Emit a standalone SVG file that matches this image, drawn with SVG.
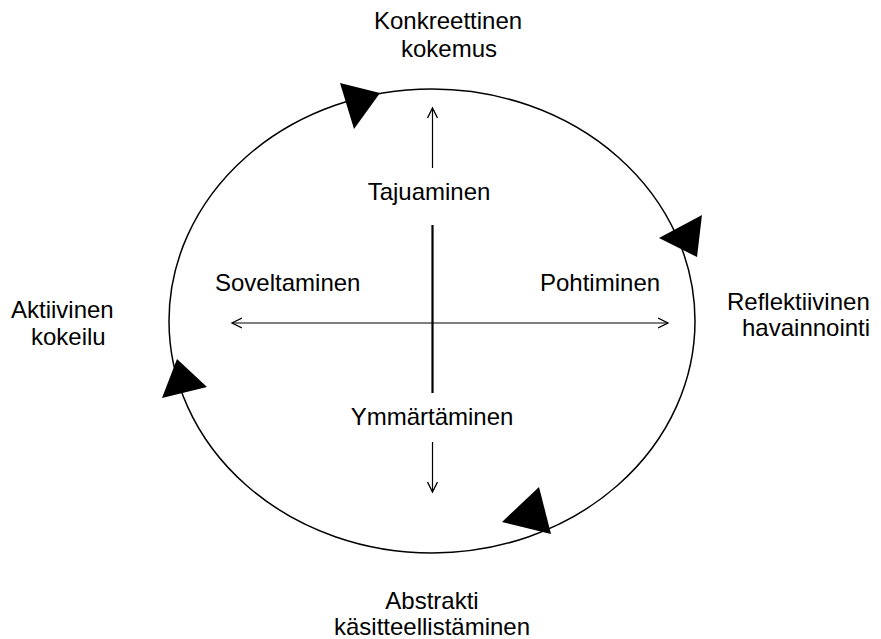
<svg xmlns="http://www.w3.org/2000/svg" width="881" height="639" viewBox="0 0 881 639">
<style>
text { font-family: "Liberation Sans", Arial, sans-serif; font-size: 24px; fill: #000; }
.c { text-anchor: middle; }
.ln { stroke: #000; fill: none; }
.head { fill: #000; stroke: none; }
</style>
<defs>
<marker id="open" markerWidth="12" markerHeight="12" refX="10" refY="6" orient="auto" markerUnits="userSpaceOnUse">
<path d="M0,1 L10,6 L0,11" fill="none" stroke="#000" stroke-width="1.3"/>
</marker>
</defs>
<rect width="881" height="639" fill="#fff"/>
<g id="connectors">
<ellipse class="ln" cx="432" cy="321" rx="263" ry="232" stroke-width="1.5"/>
<line class="ln" x1="432.5" y1="225" x2="432.5" y2="393" stroke-width="2.2"/>
<line class="ln" x1="432" y1="323" x2="232" y2="323" stroke-width="1.2" marker-end="url(#open)"/>
<line class="ln" x1="432" y1="323" x2="668" y2="323" stroke-width="1.2" marker-end="url(#open)"/>
<line class="ln" x1="432.5" y1="168" x2="432.5" y2="108" stroke-width="1.2" marker-end="url(#open)"/>
<line class="ln" x1="432.5" y1="442" x2="432.5" y2="492" stroke-width="1.2" marker-end="url(#open)"/>
<polygon class="head" points="340,83 380,93 354,129"/>
<polygon class="head" points="702,215 659,238 697,257"/>
<polygon class="head" points="177,359 162,398 207,387"/>
<polygon class="head" points="539,487 502,522 551,534"/>
</g>
<g id="konkreettinen-kokemus"><text x="374" y="29">Konkreettinen</text><text x="401" y="57">kokemus</text></g>
<g id="reflektiivinen-havainnointi"><text x="727" y="310">Reflektiivinen</text><text x="742" y="336">havainnointi</text></g>
<g id="abstrakti"><text class="c" x="432" y="609">Abstrakti</text><text class="c" x="432" y="635">käsitteellistäminen</text></g>
<g id="aktiivinen-kokeilu"><text x="11" y="318">Aktiivinen</text><text x="31" y="345">kokeilu</text></g>
<g id="tajuaminen"><text class="c" x="429" y="200">Tajuaminen</text></g>
<g id="soveltaminen"><text x="215" y="291">Soveltaminen</text></g>
<g id="pohtiminen"><text x="540" y="291">Pohtiminen</text></g>
<g id="ymmartaminen"><text class="c" x="432" y="425">Ymmärtäminen</text></g>
</svg>
